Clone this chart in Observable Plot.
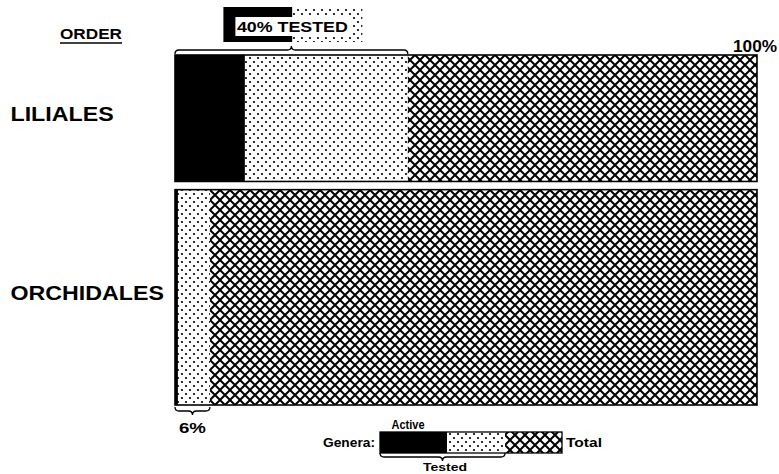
<!DOCTYPE html>
<html><head><meta charset="utf-8">
<script src="https://cdn.jsdelivr.net/npm/d3@7"></script>
<script src="https://cdn.jsdelivr.net/npm/@observablehq/plot@0.6"></script>
<style>
html,body{margin:0;padding:0;background:#fff;}
svg{display:block;}
</style></head><body><div id="chart"></div>
<script>
// ---- data ----
const orders = ["LILIALES", "ORCHIDALES"];
const activePct = [12, 0.5];
const testedPct = [40, 6];
const totalPct = [100, 100];
const generaShare = [37, 63];   // bar thickness (share of genera)
const gapShare = 2.4;
const legendParts = ["Active", "Tested", "Total"];

const rows = orders.map((o, i) => {
  const y1 = d3.sum(generaShare.slice(0, i)) + i * gapShare;
  return {order: o, active: activePct[i], tested: testedPct[i], total: totalPct[i], y1, y2: y1 + generaShare[i]};
});
const yMax = d3.sum(generaShare) + gapShare * (orders.length - 1);
const font = "'Liberation Sans', Arial, Helvetica, sans-serif";

const plot = Plot.plot({
  width: 779, height: 474,
  marginLeft: 175, marginRight: 22, marginTop: 55, marginBottom: 69,
  x: {domain: [0, 100], axis: null},
  y: {domain: [0, yMax], reverse: true, axis: null},
  style: {fontFamily: font, background: "#fff", color: "#000"},
  marks: [
    Plot.rect(rows, {x1: 0, x2: "total", y1: "y1", y2: "y2", fill: "url(#hatch)"}),
    Plot.rect(rows, {x1: 0, x2: "tested", y1: "y1", y2: "y2", fill: "url(#dots)"}),
    Plot.rect(rows, {x1: 0, x2: "active", y1: "y1", y2: "y2", fill: "#000"}),
    Plot.rect(rows, {x1: 0, x2: "total", y1: "y1", y2: "y2", fill: "none", stroke: "#000", strokeWidth: 1.6}),
    Plot.text(rows, {y: d => (d.y1 + d.y2) / 2, text: "order", frameAnchor: "left", dx: -165, dy: -4,
      textAnchor: "start", fontSize: 20, fontWeight: "bold", fill: "#000"})
  ]
});
document.getElementById("chart").appendChild(plot);

const svg = d3.select(plot);
const xs = plot.scale("x"), ys = plot.scale("y");
const X = v => xs.apply(v), Y = v => ys.apply(v);

// patterns
const defs = svg.insert("defs", ":first-child");
const hatch = defs.append("pattern").attr("id", "hatch").attr("patternUnits", "userSpaceOnUse").attr("width", 10).attr("height", 10);
hatch.append("rect").attr("width", 10).attr("height", 10).attr("fill", "#fff");
hatch.append("path").attr("d", "M-1,-1L11,11M11,-1L-1,11").attr("stroke", "#000").attr("stroke-width", 2).attr("fill", "none");
const dots = defs.append("pattern").attr("id", "dots").attr("patternUnits", "userSpaceOnUse").attr("width", 8).attr("height", 8);
dots.append("rect").attr("width", 8).attr("height", 8).attr("fill", "#fff");
dots.append("circle").attr("cx", 2).attr("cy", 2).attr("r", 1.1).attr("fill", "#000");
dots.append("circle").attr("cx", 6).attr("cy", 6).attr("r", 1.1).attr("fill", "#000");

// stretch category labels (wide typeface in the original)
svg.selectAll("text").each(function () {
  const w = this.getComputedTextLength();
  this.setAttribute("textLength", w * 1.16);
  this.setAttribute("lengthAdjust", "spacingAndGlyphs");
});

const shapes = svg.append("g");
const deco = svg.append("g").attr("font-family", font).attr("font-weight", "bold").attr("fill", "#000");
function txt(x, y, s, size, anchor, width) {
  const t = deco.append("text").attr("x", x).attr("y", y).attr("font-size", size).attr("text-anchor", anchor).text(s);
  if (width) t.attr("textLength", width).attr("lengthAdjust", "spacingAndGlyphs");
  return t;
}
function brace(x1, x2, yb, dir) {
  const m = (x1 + x2) / 2, h = 4 * dir;
  return `M${x1},${yb - h}Q${x1},${yb} ${x1 + 4},${yb}L${m - 4},${yb}Q${m},${yb} ${m},${yb + h}Q${m},${yb} ${m + 4},${yb}L${x2 - 4},${yb}Q${x2},${yb} ${x2},${yb - h}`;
}
function drawBrace(x1, x2, yb, dir) {
  shapes.append("path").attr("d", brace(x1, x2, yb, dir)).attr("fill", "none").attr("stroke", "#000").attr("stroke-width", 1.3);
}

// ORDER header
txt(60, 39, "ORDER", 14, "start", 62);
shapes.append("line").attr("x1", 60).attr("x2", 122).attr("y1", 43).attr("y2", 43).attr("stroke", "#000").attr("stroke-width", 1.3);

// top brace + callout for Liliales tested share
const r0 = rows[0];
const bx1 = X(0), bx2 = X(r0.tested), bm = (bx1 + bx2) / 2;
drawBrace(bx1, bx2, Y(r0.y1) - 5, -1);
shapes.append("rect").attr("x", bm - 68).attr("y", 7).attr("width", 69).attr("height", 35).attr("fill", "#000");
shapes.append("rect").attr("x", bm + 1).attr("y", 7).attr("width", 70).attr("height", 35).attr("fill", "url(#dots)");
shapes.append("rect").attr("x", bm - 56).attr("y", 17).attr("width", 116).attr("height", 19).attr("fill", "#fff");
txt(bm + 1, 32, `${r0.tested}% TESTED`, 15, "middle", 111);

// 100% label
txt(X(r0.total) - 2, 52, `${r0.total}%`, 16, "middle", 44);

// bottom brace for Orchidales tested share
const r1 = rows[1];
drawBrace(X(0), X(r1.tested), Y(r1.y2) + 6, 1);
txt((X(0) + X(r1.tested)) / 2, 433, `${r1.tested}%`, 15, "middle", 27);

// legend
const L = {x0: 380, x1: 447, x2: 505, x3: 562, y: 432, h: 21};
shapes.append("rect").attr("x", L.x0).attr("y", L.y).attr("width", L.x1 - L.x0).attr("height", L.h).attr("fill", "#000");
shapes.append("rect").attr("x", L.x1).attr("y", L.y).attr("width", L.x2 - L.x1).attr("height", L.h).attr("fill", "url(#dots)");
shapes.append("rect").attr("x", L.x2).attr("y", L.y).attr("width", L.x3 - L.x2).attr("height", L.h).attr("fill", "url(#hatch)");
shapes.append("rect").attr("x", L.x0).attr("y", L.y).attr("width", L.x3 - L.x0).attr("height", L.h).attr("fill", "none").attr("stroke", "#000").attr("stroke-width", 1.3);
txt(375, 447, "Genera:", 12.5, "end", 52);
txt(408, 429, legendParts[0], 12.5, "middle", 33);
txt(566, 447, legendParts[2], 12.5, "start", 36);
drawBrace(L.x0, L.x2, 457, 1);
txt(445, 471, legendParts[1], 11.5, "middle", 44);
</script>
</body></html>
